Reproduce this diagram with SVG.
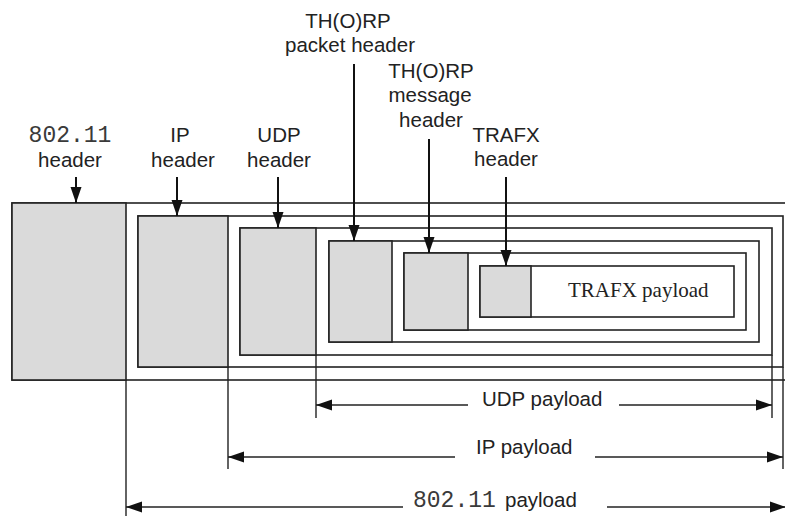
<svg xmlns="http://www.w3.org/2000/svg" width="785" height="516" viewBox="0 0 785 516">
<style>
.frame{fill:none;stroke:#222;stroke-width:1.6}
.hdr{fill:#dadada;stroke:#222;stroke-width:1.6}
.ext{stroke:#222;stroke-width:1.4;fill:none}
.dim{stroke:#222;stroke-width:1.6;fill:none;marker-end:url(#ah)}
.down{stroke:#111;stroke-width:2;fill:none;marker-end:url(#ah)}
.lbl{font-family:"Liberation Sans",Arial,sans-serif;font-size:20.5px;fill:#222;text-anchor:middle}
.mono{font-family:"Liberation Mono","Courier New",monospace;font-size:23px;fill:#3a3a3a}
.pl{font-family:"Liberation Sans",Arial,sans-serif;font-size:20.5px;fill:#222}
.serif{font-family:"Liberation Serif","Times New Roman",serif;font-size:21px;fill:#222}
</style>
<defs>
<marker id="ah" markerUnits="userSpaceOnUse" markerWidth="17" markerHeight="12" refX="16" refY="6" orient="auto">
<path d="M0,0.5 L16,6 L0,11.5 z" fill="#111"/>
</marker>
</defs>
<rect width="785" height="516" fill="#fff"/>

<g id="frame-80211">
<rect class="frame" x="12" y="203" width="790" height="177"/>
<rect class="hdr" x="12" y="203" width="114" height="177"/>
</g>
<g id="frame-ip">
<rect class="frame" x="138" y="216" width="645" height="151"/>
<rect class="hdr" x="138" y="216" width="90" height="151"/>
</g>
<g id="frame-udp">
<rect class="frame" x="240" y="228" width="532" height="127"/>
<rect class="hdr" x="240" y="228" width="76" height="127"/>
</g>
<g id="frame-thorp-packet">
<rect class="frame" x="329" y="241" width="430" height="101"/>
<rect class="hdr" x="329" y="241" width="63" height="101"/>
</g>
<g id="frame-thorp-message">
<rect class="frame" x="404" y="253" width="342" height="77"/>
<rect class="hdr" x="404" y="253" width="64" height="77"/>
</g>
<g id="frame-trafx">
<rect class="frame" x="480" y="266" width="254" height="51"/>
<rect class="hdr" x="480" y="266" width="51" height="51"/>
<text class="serif" x="568" y="297">TRAFX payload</text>
</g>

<g id="label-80211-header">
<text class="mono" x="70" y="142" text-anchor="middle">802.11</text>
<text class="lbl" x="70" y="167">header</text>
</g>
<g id="label-ip-header">
<text class="lbl" x="180" y="142">IP</text>
<text class="lbl" x="183" y="167">header</text>
</g>
<g id="label-udp-header">
<text class="lbl" x="279" y="142">UDP</text>
<text class="lbl" x="279" y="167">header</text>
</g>
<g id="label-thorp-packet-header">
<text class="lbl" x="348" y="28">TH(O)RP</text>
<text class="lbl" x="350" y="52">packet header</text>
</g>
<g id="label-thorp-message-header">
<text class="lbl" x="431" y="78">TH(O)RP</text>
<text class="lbl" x="430" y="102">message</text>
<text class="lbl" x="431" y="127">header</text>
</g>
<g id="label-trafx-header">
<text class="lbl" x="506" y="142">TRAFX</text>
<text class="lbl" x="506" y="166">header</text>
</g>

<g id="connectors">
<line class="down" x1="76" y1="177" x2="76" y2="203"/>
<line class="down" x1="177" y1="177" x2="177" y2="216"/>
<line class="down" x1="278" y1="177" x2="278" y2="228"/>
<line class="down" x1="354" y1="64" x2="354" y2="241"/>
<line class="down" x1="429" y1="139" x2="429" y2="253"/>
<line class="down" x1="506" y1="177" x2="506" y2="266"/>

<line class="ext" x1="126" y1="380" x2="126" y2="516"/>
<line class="ext" x1="228" y1="367" x2="228" y2="469"/>
<line class="ext" x1="316" y1="355" x2="316" y2="418"/>
<line class="ext" x1="772" y1="355" x2="772" y2="418"/>
<line class="ext" x1="783" y1="367" x2="783" y2="469"/>

<line class="dim" x1="468" y1="405" x2="316" y2="405"/>
<line class="dim" x1="619" y1="405" x2="772" y2="405"/>
<line class="dim" x1="455" y1="457" x2="228" y2="457"/>
<line class="dim" x1="595" y1="457" x2="783" y2="457"/>
<line class="dim" x1="403" y1="507" x2="126" y2="507"/>
<line class="dim" x1="607" y1="507" x2="786" y2="507"/>
</g>

<g id="payload-labels">
<text class="pl" x="482" y="406">UDP payload</text>
<text class="pl" x="476" y="454">IP payload</text>
<text x="413" y="507"><tspan class="mono">802.11</tspan><tspan class="pl" x="505">payload</tspan></text>
</g>
</svg>
